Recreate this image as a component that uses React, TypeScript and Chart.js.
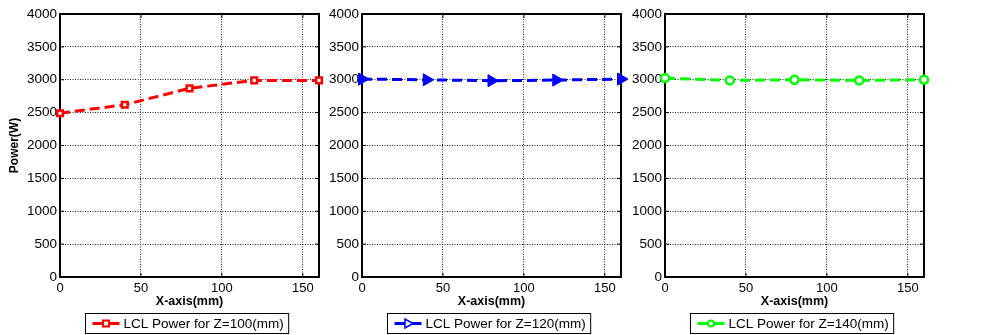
import { useEffect, useRef } from 'react';
import { Chart, registerables } from 'chart.js';

Chart.register(...registerables);

// Measurement stations along X (mm) and LCL power (W) at three heights Z
const positions = [0, 40, 80, 120, 160];
const powerZ100 = [2490, 2620, 2870, 2990, 2990];
const powerZ120 = [3010, 3000, 2985, 2995, 3010];
const powerZ140 = [3025, 2990, 3000, 2990, 3000];

const seriesLabels = [
  'LCL Power for Z=100(mm)',
  'LCL Power for Z=120(mm)',
  'LCL Power for Z=140(mm)',
];
const seriesColors = ['#ff0000', '#0000ff', '#00ff00'];
const seriesMarkers = ['square', 'triangleRight', 'circle'];

const xTicks = [0, 50, 100, 150];
const yTicks = [0, 500, 1000, 1500, 2000, 2500, 3000, 3500, 4000];
const xMin = 0;
const xMax = 160;
const yMin = 0;
const yMax = 4000;
const xTitle = 'X-axis(mm)';
const yTitle = 'Power(W)';

const W = 984;
const H = 335;
const FONT = '"Liberation Sans", Arial, Helvetica, sans-serif';

type Panel = {
  values: number[];
  label: string;
  color: string;
  marker: string;
  padLeft: number;
  axisWidth: number;
  plotRight: number;
  showYTitle: boolean;
};

const panels: Panel[] = [
  { values: powerZ100, label: seriesLabels[0], color: seriesColors[0], marker: seriesMarkers[0], padLeft: 0, axisWidth: 60, plotRight: 319, showYTitle: true },
  { values: powerZ120, label: seriesLabels[1], color: seriesColors[1], marker: seriesMarkers[1], padLeft: 322, axisWidth: 40, plotRight: 621, showYTitle: false },
  { values: powerZ140, label: seriesLabels[2], color: seriesColors[2], marker: seriesMarkers[2], padLeft: 625, axisWidth: 40, plotRight: 924, showYTitle: false },
];

// Small legend-sized marker glyphs
function drawMarker(ctx: CanvasRenderingContext2D, kind: string, x: number, y: number, color: string) {
  ctx.save();
  ctx.setLineDash([]);
  ctx.strokeStyle = color;
  ctx.fillStyle = color;
  if (kind === 'square') {
    ctx.lineWidth = 2;
    ctx.fillStyle = '#ffffff';
    ctx.fillRect(x - 3, y - 3, 6, 6);
    ctx.strokeRect(x - 3, y - 3, 6, 6);
  } else if (kind === 'triangleRight') {
    ctx.lineWidth = 1.5;
    ctx.fillStyle = '#ffffff';
    ctx.beginPath();
    ctx.moveTo(x + 5, y);
    ctx.lineTo(x - 3, y - 4.5);
    ctx.lineTo(x - 3, y + 4.5);
    ctx.closePath();
    ctx.fill();
    ctx.stroke();
  } else {
    ctx.lineWidth = 2;
    ctx.fillStyle = '#ffffff';
    ctx.beginPath();
    ctx.arc(x, y, 3, 0, Math.PI * 2);
    ctx.fill();
    ctx.stroke();
  }
  ctx.restore();
}

// Axes box plus inward tick marks on all four sides
const framePlugin = {
  id: 'frame',
  beforeDatasetsDraw(chart: any) {
    const { ctx, chartArea: a, scales } = chart;
    ctx.save();
    ctx.strokeStyle = '#000';
    ctx.lineWidth = 1;
    ctx.setLineDash([]);
    ctx.beginPath();
    for (const v of xTicks) {
      const px = scales.x.getPixelForValue(v);
      ctx.moveTo(px, a.bottom);
      ctx.lineTo(px, a.bottom - 4);
      ctx.moveTo(px, a.top);
      ctx.lineTo(px, a.top + 4);
    }
    for (const v of yTicks) {
      const py = scales.y.getPixelForValue(v);
      ctx.moveTo(a.left, py);
      ctx.lineTo(a.left + 4, py);
      ctx.moveTo(a.right, py);
      ctx.lineTo(a.right - 4, py);
    }
    ctx.stroke();
    ctx.lineWidth = 2;
    ctx.strokeRect(a.left, a.top, a.right - a.left, a.bottom - a.top);
    ctx.restore();
  },
};

// Boxed legend centred below each panel
const legendBoxPlugin = {
  id: 'legendBox',
  afterDraw(chart: any) {
    const { ctx, chartArea: a } = chart;
    const ds = chart.data.datasets[0];
    const marker = chart.options.plugins.legendBox.marker;
    ctx.save();
    ctx.font = `13.5px ${FONT}`;
    const textW = ctx.measureText(ds.label).width;
    const padL = 7;
    const sampleW = 27;
    const gap = 4;
    const padR = 5;
    const boxW = padL + sampleW + gap + textW + padR;
    const boxH = 20;
    const cx = (a.left + a.right) / 2 - 3;
    const x0 = Math.round(cx - boxW / 2) + 0.5;
    const y0 = Math.round(a.bottom + 36) + 0.5;
    ctx.fillStyle = '#fff';
    ctx.fillRect(x0, y0, boxW, boxH);
    ctx.strokeStyle = '#000';
    ctx.lineWidth = 1;
    ctx.strokeRect(x0, y0, boxW, boxH);
    const my = y0 + boxH / 2;
    ctx.strokeStyle = ds.borderColor;
    ctx.lineWidth = 3;
    ctx.beginPath();
    ctx.moveTo(x0 + padL, my);
    ctx.lineTo(x0 + padL + sampleW, my);
    ctx.stroke();
    drawMarker(ctx, marker, x0 + padL + sampleW / 2, my, ds.borderColor);
    ctx.fillStyle = '#000';
    ctx.textBaseline = 'middle';
    ctx.textAlign = 'left';
    ctx.fillText(ds.label, x0 + padL + sampleW + gap, my + 0.5);
    ctx.restore();
  },
};

function PowerPanel({ panel }: { panel: Panel }) {
  const ref = useRef<HTMLCanvasElement | null>(null);

  useEffect(() => {
    if (!ref.current) return;
    const isTri = panel.marker === 'triangleRight';
    const pointStyle = panel.marker === 'square' ? 'rect' : isTri ? 'triangle' : 'circle';
    const chart = new Chart(ref.current, {
      type: 'line',
      data: {
        datasets: [
          {
            label: panel.label,
            data: positions.map((x, i) => ({ x, y: panel.values[i] })),
            borderColor: panel.color,
            backgroundColor: isTri ? panel.color : '#ffffff',
            borderWidth: 3,
            borderDash: [10, 5],
            pointStyle,
            pointRotation: isTri ? 90 : 0,
            pointRadius: isTri ? 7 : 4,
            pointBorderWidth: isTri ? 1 : 2.5,
            pointBackgroundColor: isTri ? panel.color : '#ffffff',
            pointBorderColor: panel.color,
            tension: 0,
            clip: false as any,
          },
        ],
      },
      options: {
        responsive: false,
        animation: false,
        events: [],
        layout: {
          padding: { left: panel.padLeft, right: W - panel.plotRight, top: 14, bottom: 0 },
        },
        plugins: {
          legend: { display: false },
          tooltip: { enabled: false },
          legendBox: { marker: panel.marker },
        } as any,
        scales: {
          x: {
            type: 'linear',
            min: xMin,
            max: xMax,
            afterBuildTicks: (s: any) => {
              s.ticks = xTicks.map((value) => ({ value }));
            },
            afterFit: (s: any) => {
              s.height = 58;
            },
            grid: { color: '#222', lineWidth: 1, drawTicks: false },
            border: { display: false, dash: [1, 1.5] },
            ticks: {
              color: '#000',
              font: { size: 13, family: FONT },
              padding: 4,
              maxRotation: 0,
              callback: (v: any) => String(v),
            },
            title: {
              display: true,
              text: xTitle,
              color: '#000',
              font: { size: 12.5, weight: 'bold', family: FONT },
              padding: { top: 0, bottom: 26 },
            },
          },
          y: {
            type: 'linear',
            min: yMin,
            max: yMax,
            afterBuildTicks: (s: any) => {
              s.ticks = yTicks.map((value) => ({ value }));
            },
            afterFit: (s: any) => {
              s.width = panel.axisWidth;
            },
            grid: { color: '#222', lineWidth: 1, drawTicks: false },
            border: { display: false, dash: [1, 1.5] },
            ticks: {
              color: '#000',
              font: { size: 13.5, family: FONT },
              padding: 3,
              callback: (v: any) => String(v),
            },
            title: {
              display: panel.showYTitle,
              text: yTitle,
              color: '#000',
              font: { size: 12, weight: 'bold', family: FONT },
              padding: { top: 7, bottom: 0 },
            },
          },
        },
      } as any,
      plugins: [framePlugin, legendBoxPlugin],
    });
    return () => chart.destroy();
  }, [panel]);

  return (
    <canvas
      ref={ref}
      width={W}
      height={H}
      style={{ position: 'absolute', left: 0, top: 0, width: W, height: H }}
    />
  );
}

export default function App() {
  return (
    <div style={{ position: 'fixed', left: 0, top: 0, width: W, height: H, background: '#fff' }}>
      {panels.map((p) => (
        <PowerPanel key={p.label} panel={p} />
      ))}
    </div>
  );
}
